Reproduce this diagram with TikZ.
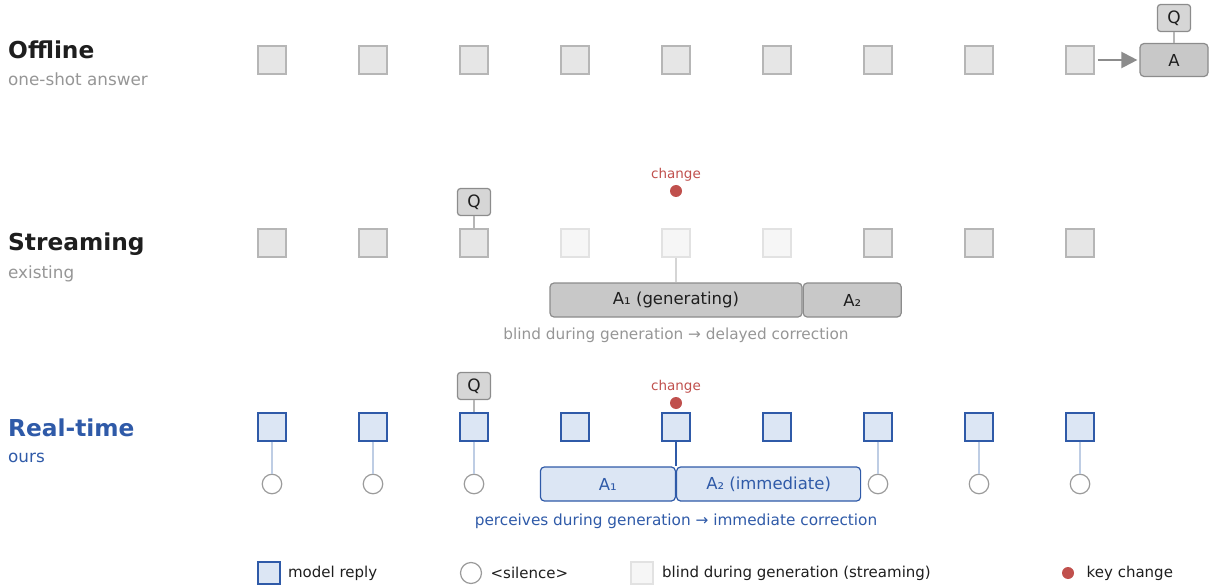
\documentclass[tikz,border=0pt]{standalone}
\usepackage{fontspec}
\setmainfont{DejaVu Sans}
\usetikzlibrary{arrows.meta,positioning}
\definecolor{rtblue}{RGB}{47,90,168}
\definecolor{rtfill}{RGB}{220,230,244}
\definecolor{rtline}{RGB}{190,205,228}
\definecolor{chgred}{RGB}{192,80,77}
\definecolor{sqgray}{RGB}{230,230,230}
\definecolor{sqedge}{RGB}{182,182,182}
\definecolor{blindfill}{RGB}{246,246,246}
\definecolor{blindedge}{RGB}{226,226,226}
\definecolor{boxgray}{RGB}{200,200,200}
\definecolor{qgray}{RGB}{214,214,214}
\definecolor{boxedge}{RGB}{140,140,140}
\definecolor{capgray}{RGB}{150,150,150}
\definecolor{silgray}{RGB}{155,155,155}
\definecolor{txtdark}{RGB}{30,30,30}
\tikzset{
  tok/.style={draw=sqedge,fill=sqgray,line width=1.2pt,minimum size=28pt,inner sep=0pt},
  tokblind/.style={tok,draw=blindedge,fill=blindfill},
  tokours/.style={tok,draw=rtblue,fill=rtfill},
  qbox/.style={draw=boxedge,fill=qgray,rounded corners=3pt,line width=1.2pt,minimum width=33pt,minimum height=27pt,inner sep=0pt,font=\fontsize{17}{19}\selectfont,text=txtdark},
  ansbox/.style={draw=boxedge,fill=boxgray,rounded corners=4pt,line width=1.2pt,minimum height=34pt,inner sep=0pt,font=\fontsize{16.5}{19}\selectfont,text=txtdark},
  ansours/.style={ansbox,draw=rtblue,fill=rtfill,text=rtblue},
  sil/.style={circle,draw=silgray,fill=white,line width=1.2pt,minimum size=19.5pt,inner sep=0pt},
  chg/.style={circle,fill=chgred,minimum size=12pt,inner sep=0pt},
  chglabel/.style={text=chgred,font=\fontsize{13.5}{15}\selectfont},
  title/.style={anchor=west,inner sep=0pt,font=\fontsize{23.3}{26}\selectfont\bfseries,text=txtdark},
  subtitle/.style={anchor=west,inner sep=0pt,font=\fontsize{16.8}{19}\selectfont,text=capgray},
  caption/.style={font=\fontsize{15.3}{17}\selectfont,text=capgray},
  legtext/.style={anchor=west,font=\fontsize{15}{17}\selectfont,text=txtdark},
  link/.style={draw=sqedge,line width=1.2pt}
}
\begin{document}
\begin{tikzpicture}[x=1pt,y=-1pt]
\useasboundingbox (0,0) rectangle (1210,588);
% row titles
\node[title] (toff) at (8,50) {Offline};
\node[subtitle] (soff) at (8,79) {one-shot answer};
\node[title] (tstr) at (8,244) {Streaming};
\node[subtitle] (sstr) at (8,274) {existing};
\node[title,text=rtblue] (trt) at (8,428) {Real-time};
\node[subtitle,text=rtblue] (srt) at (8,458) {ours};
% Offline
\foreach \i in {1,...,9} {\node[tok] (off\i) at ({171+101*\i},60) {};}
\node[ansbox,minimum width=68pt,minimum height=33pt] (aoff) at (1174,60) {A};
\node[qbox] (qoff) at (1174,18) {Q};
\draw[link] (qoff) -- (aoff);
\draw[boxedge,line width=2.2pt,-{Triangle[length=16pt,width=16pt]},shorten <=3pt,shorten >=2pt] (off9) -- (aoff);
% Streaming
\foreach \i in {1,...,9} {\node[tok] (str\i) at ({171+101*\i},243) {};}
\foreach \i in {4,5,6} {\node[tokblind] at (str\i) {};}
\node[qbox] (qstr) at (474,202) {Q};
\draw[link] (qstr) -- (str3);
\node[chglabel] (cstr) at (676,175) {change};
\node[chg] (dstr) at (676,191) {};
\node[ansbox,minimum width=252pt] (a1str) at (676,300) {A₁ (generating)};
\node[ansbox,minimum width=98pt,right=0pt of a1str] (a2str) {A₂};
\draw[link,draw=blindedge!70!sqedge] (str5) -- (a1str);
\node[caption] (capstr) at (676,335) {blind during generation → delayed correction};
% Real-time
\foreach \i in {1,...,9} {\node[tokours] (rt\i) at ({171+101*\i},427) {};}
\foreach \i in {1,2,3,7,8,9} {
  \node[sil] (sil\i) at ({171+101*\i},484) {};
  \draw[rtline,line width=1.2pt] (rt\i) -- (sil\i);
}
\node[qbox] (qrt) at (474,386) {Q};
\draw[link] (qrt) -- (rt3);
\node[chglabel] (crt) at (676,387) {change};
\node[chg] (drt) at (676,403) {};
\node[ansours,minimum width=135pt,anchor=east] (a1rt) at (676,484) {A₁};
\node[ansours,minimum width=184pt,anchor=west] (a2rt) at (676,484) {A₂ (immediate)};
\draw[rtblue,line width=1.4pt] (rt5) -- (a1rt.north east);
\node[caption,text=rtblue] (caprt) at (676,521) {perceives during generation → immediate correction};
% legend
\node[tokours,minimum size=22pt] (lgtok) at (269,573) {};
\node[legtext,right=4pt of lgtok] {model reply};
\node[sil,minimum size=21pt] (lgsil) at (471,573) {};
\node[legtext,right=5pt of lgsil] {<silence>};
\node[tokblind,minimum size=22pt] (lgblind) at (642,573) {};
\node[legtext,right=5pt of lgblind] {blind during generation (streaming)};
\node[chg] (lgchg) at (1068,573) {};
\node[legtext,right=9pt of lgchg] {key change};
\end{tikzpicture}
\end{document}
